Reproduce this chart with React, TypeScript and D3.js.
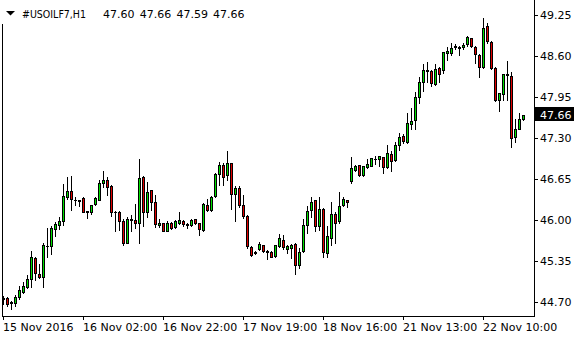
import React from 'react';
import * as d3 from 'd3';

const symbol = '#USOILF7,H1';

const opens = [
  44.76, 44.76, 44.69, 44.68, 44.78, 44.86, 44.94, 45.06, 45.39, 45.14,
  45.09, 45.58, 45.58, 45.86, 45.92, 45.99, 46.37, 46.46, 46.31, 46.31,
  46.35, 46.13, 46.12, 46.25, 46.32, 46.59, 46.64, 46.54, 46.12, 46.13,
  45.99, 45.64, 46.00, 46.00, 45.95, 46.68, 46.13, 46.47, 46.28, 45.92,
  45.95, 45.83, 45.95, 45.89, 45.95, 45.99, 45.93, 45.92, 46.01, 45.95,
  45.84, 46.23, 46.16, 46.38, 46.73, 46.87, 46.71, 46.90, 46.42, 46.50,
  46.23, 46.06, 45.57, 45.48, 45.54, 45.60, 45.51, 45.50, 45.43, 45.59,
  45.69, 45.54, 45.56, 45.62, 45.28, 45.51, 45.92, 46.16, 46.31, 45.90,
  46.18, 45.48, 45.72, 46.09, 45.99, 46.23, 46.32, 46.62, 46.80, 46.87,
  46.71, 46.84, 46.86, 46.96, 46.96, 47.00, 46.84, 47.04, 46.95, 47.19,
  47.33, 47.24, 47.52, 47.58, 47.95, 48.19, 48.38, 48.37, 48.15, 48.41,
  48.38, 48.64, 48.64, 48.75, 48.74, 48.74, 48.79, 48.88, 48.75, 48.62,
  48.42, 49.08, 48.82, 48.41, 47.90, 48.00, 48.31, 48.29, 47.31, 47.45,
  47.60,
];

const highs = [
  44.80, 44.78, 44.72, 44.81, 44.95, 45.01, 45.13, 45.51, 45.42, 45.31,
  45.64, 45.87, 45.90, 45.97, 46.04, 46.57, 46.68, 46.69, 46.36, 46.32,
  46.36, 46.15, 46.24, 46.36, 46.64, 46.77, 46.68, 46.56, 46.15, 46.15,
  46.01, 46.04, 46.08, 46.25, 46.97, 46.69, 46.60, 46.48, 46.40, 46.01,
  45.96, 45.98, 45.97, 46.00, 46.13, 46.00, 45.96, 46.02, 46.02, 45.96,
  46.27, 46.34, 46.38, 46.75, 46.92, 46.90, 47.09, 46.91, 46.54, 46.54,
  46.40, 46.08, 45.58, 45.51, 45.65, 45.61, 45.52, 45.51, 45.61, 45.78,
  45.76, 45.60, 45.62, 45.63, 45.55, 46.01, 46.22, 46.36, 46.32, 46.36,
  46.19, 45.91, 46.29, 46.12, 46.44, 46.36, 46.32, 47.00, 46.87, 46.87,
  46.86, 46.96, 46.99, 47.02, 47.02, 47.00, 47.19, 47.10, 47.24, 47.38,
  47.37, 47.70, 47.77, 48.03, 48.27, 48.48, 48.50, 48.38, 48.48, 48.42,
  48.67, 48.74, 48.80, 48.79, 48.76, 48.80, 48.91, 48.89, 48.76, 48.63,
  49.21, 49.12, 48.83, 48.42, 48.02, 48.32, 48.52, 48.35, 47.60, 47.70,
  47.66,
];

const lows = [
  44.67, 44.64, 44.59, 44.63, 44.74, 44.85, 44.92, 44.94, 45.05, 45.08,
  44.94, 45.42, 45.46, 45.75, 45.86, 45.92, 46.33, 46.16, 46.23, 46.22,
  46.12, 46.03, 46.10, 46.23, 46.31, 46.53, 46.39, 46.07, 45.83, 45.84,
  45.60, 45.63, 45.83, 45.88, 45.64, 45.91, 46.04, 46.16, 45.89, 45.89,
  45.82, 45.82, 45.86, 45.88, 45.94, 45.91, 45.88, 45.91, 45.94, 45.77,
  45.83, 46.15, 46.15, 46.37, 46.55, 46.55, 46.63, 46.18, 45.99, 46.21,
  46.03, 45.55, 45.43, 45.46, 45.52, 45.49, 45.38, 45.41, 45.42, 45.57,
  45.54, 45.48, 45.39, 45.14, 45.24, 45.49, 45.80, 46.04, 45.83, 45.84,
  45.42, 45.42, 45.60, 45.64, 45.96, 46.22, 46.21, 46.59, 46.77, 46.70,
  46.70, 46.82, 46.85, 46.89, 46.86, 46.75, 46.82, 46.78, 46.94, 47.11,
  47.22, 47.22, 47.45, 47.45, 47.86, 48.05, 48.19, 48.13, 48.14, 48.19,
  48.33, 48.53, 48.61, 48.71, 48.62, 48.71, 48.76, 48.75, 48.49, 48.26,
  48.41, 48.81, 48.39, 47.89, 47.73, 47.90, 47.90, 47.15, 47.24, 47.44,
  47.59,
];

const closes = [
  44.75, 44.67, 44.70, 44.78, 44.89, 44.95, 45.07, 45.41, 45.16, 45.09,
  45.60, 45.59, 45.87, 45.94, 45.98, 46.38, 46.46, 46.34, 46.32, 46.30,
  46.13, 46.14, 46.23, 46.35, 46.59, 46.64, 46.53, 46.12, 46.13, 45.99,
  45.63, 46.02, 46.01, 45.96, 46.66, 46.13, 46.45, 46.28, 45.93, 45.95,
  45.83, 45.96, 45.88, 45.98, 46.00, 45.93, 45.92, 46.00, 45.95, 45.85,
  46.25, 46.16, 46.37, 46.73, 46.87, 46.68, 46.90, 46.42, 46.51, 46.23,
  46.06, 45.58, 45.45, 45.49, 45.62, 45.51, 45.50, 45.41, 45.60, 45.71,
  45.57, 45.59, 45.61, 45.29, 45.50, 45.92, 46.15, 46.29, 45.91, 46.18,
  45.50, 45.75, 46.09, 45.96, 46.22, 46.34, 46.28, 46.82, 46.86, 46.71,
  46.85, 46.89, 46.98, 46.97, 47.01, 46.84, 47.06, 46.93, 47.19, 47.32,
  47.26, 47.53, 47.57, 47.95, 48.19, 48.38, 48.36, 48.17, 48.40, 48.31,
  48.66, 48.68, 48.72, 48.76, 48.73, 48.78, 48.90, 48.76, 48.63, 48.42,
  49.04, 48.83, 48.41, 47.90, 48.01, 48.31, 48.30, 47.30, 47.44, 47.60,
  47.66,
];

const timeLabels = ['15 Nov 2016', '16 Nov 02:00', '16 Nov 22:00', '17 Nov 19:00', '18 Nov 16:00', '21 Nov 13:00', '22 Nov 10:00'];
const timeLabelBars = [0, 20, 40, 60, 80, 100, 120];
const priceTicks = [44.70, 45.35, 46.00, 46.65, 47.30, 47.95, 48.60, 49.25];

const W = 580;
const H = 340;
const FONT = '"DejaVu Sans", Verdana, sans-serif';
const BULL = '#00e000';
const BEAR = '#e00000';

export default function App() {
  const n = opens.length;
  const x = d3.scaleLinear().domain([0, n - 1]).range([3, 3 + 4 * (n - 1)]);
  const y = d3.scaleLinear().domain([44.70, 49.25]).range([302, 15]);
  const py = (v: number) => Math.round(y(v));
  const last = n - 1;
  const lastY = py(closes[last]);
  const ohlc = [opens[last], highs[last], lows[last], closes[last]].map((v) => v.toFixed(2));

  const candles = d3.range(n).map((i) => {
    const cx = Math.round(x(i));
    const o = opens[i], c = closes[i];
    const top = py(Math.max(o, c));
    const bot = py(Math.min(o, c));
    const hy = py(highs[i]);
    const ly = py(lows[i]);
    const color = c > o ? BULL : c < o ? BEAR : '#000';
    const bh = bot - top + 1;
    return (
      <g key={i}>
        <rect x={cx} y={hy} width={1} height={ly - hy + 1} fill="#000" />
        <rect x={cx - 1} y={top} width={3} height={bh} fill="#000" />
        {bh > 2 && <rect x={cx} y={top + 1} width={1} height={bh - 2} fill={color} />}
      </g>
    );
  });

  return (
    <svg width={W} height={H} style={{ position: 'absolute', left: 0, top: 0, background: '#fff' }} shapeRendering="crispEdges">
      <rect x={0} y={0} width={W} height={H} fill="#fff" />
      {/* frame */}
      <rect x={534} y={0} width={1} height={317} fill="#000" />
      <rect x={2} y={316} width={533} height={1} fill="#000" />
      <rect x={2} y={24} width={1} height={293} fill="#000" />

      {/* candles */}
      {candles}

      {/* price axis */}
      {priceTicks.map((t) => (
        <g key={t}>
          <rect x={535} y={py(t)} width={3} height={1} fill="#000" />
          <text x={540} y={py(t) + 4} fontFamily={FONT} fontSize={11} fill="#000">{t.toFixed(2)}</text>
        </g>
      ))}
      <rect x={535} y={lastY - 8} width={39} height={14} fill="#000" />
      <text x={540} y={lastY + 4} fontFamily={FONT} fontSize={11} fill="#fff">{closes[last].toFixed(2)}</text>

      {/* time axis */}
      {timeLabelBars.map((b, k) => {
        const tx = Math.round(x(b));
        return (
          <g key={b}>
            <rect x={tx} y={317} width={1} height={3} fill="#000" />
            <text x={tx} y={331} fontFamily={FONT} fontSize={11} fill="#000">{timeLabels[k]}</text>
          </g>
        );
      })}

      {/* title */}
      <polygon points="6,11 15,11 10.5,15.5" fill="#000" shapeRendering="auto" />
      <text x={22} y={18} fontFamily={FONT} fontSize={11} fill="#000" textLength={64} lengthAdjust="spacingAndGlyphs">{symbol}</text>
      {ohlc.map((s, k) => (
        <text key={k} x={103 + 36.7 * k} y={18} fontFamily={FONT} fontSize={11} fill="#000">{s}</text>
      ))}
    </svg>
  );
}
